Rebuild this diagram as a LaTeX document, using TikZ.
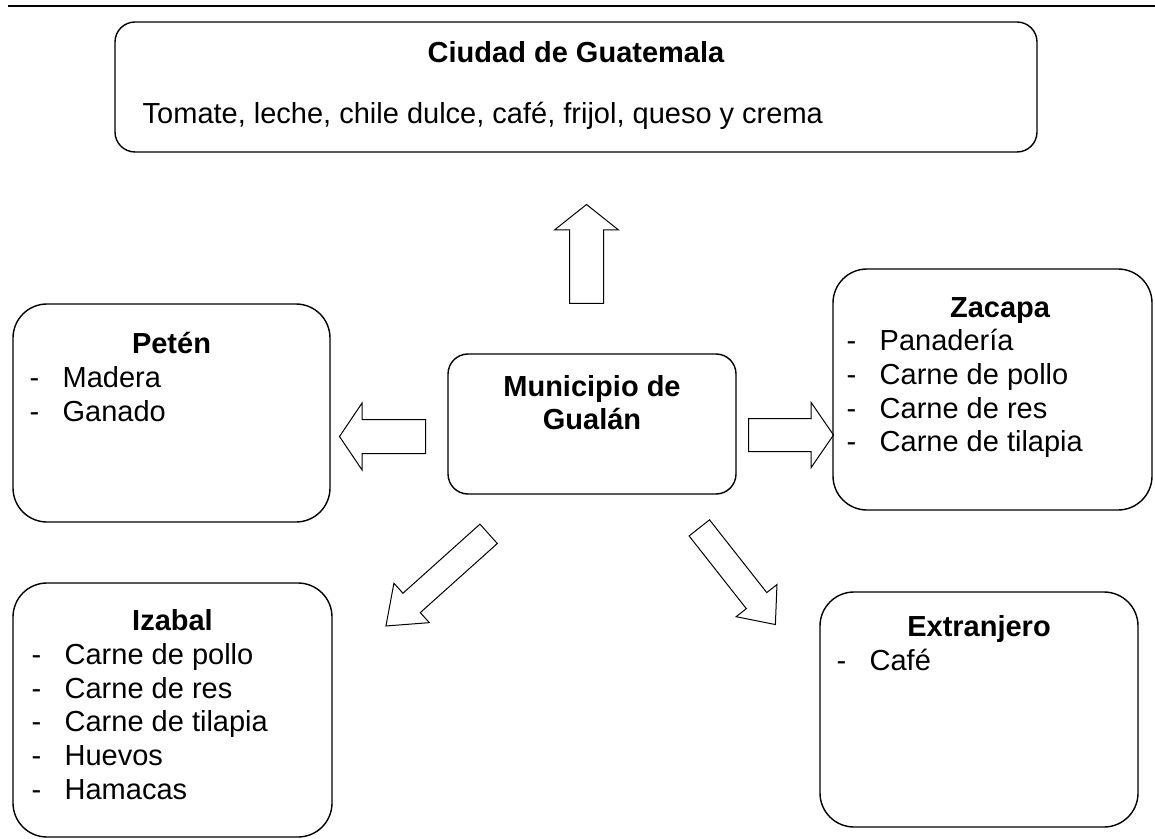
\documentclass[tikz,border=0pt]{standalone}
\usepackage{fontspec}
\setmainfont{Liberation Sans}
\usetikzlibrary{shapes.arrows}
\newcommand{\letra}{\fontsize{14.5}{16.85}\selectfont}
\newcommand{\guion}[1]{\makebox[16.5pt][l]{-}#1}
\tikzset{
  caja/.style = {draw=black, line width=0.7pt, rounded corners=17pt,
    inner sep=0pt},% caja de destino
  cajita/.style = {caja, rounded corners=10pt},% ciudad y municipio
  titulo/.style = {font=\letra\bfseries, inner sep=0pt, anchor=base},
  lista/.style = {font=\letra, inner sep=0pt, anchor=base west},
  flecha/.style = {single arrow, draw=black, line width=0.5pt,
    inner xsep=0pt, minimum width=0pt, anchor=tail}% flecha de bloque
}
\begin{document}
\begin{tikzpicture}[x=0.5pt, y=-0.5pt]
  \useasboundingbox (0,0) rectangle (1155,839);
  \draw[line width=1.1pt] (8,6) -- (1155,6);
  % cajas
  \node [cajita, minimum width=461pt, minimum height=65pt] (ciudad) at (576,87) {};
  \node [cajita, minimum width=144pt, minimum height=70pt] (muni) at (592,424) {};
  \node [caja, minimum width=158.5pt, minimum height=109pt] (peten) at (171.5,413) {};
  \node [caja, minimum width=159.5pt, minimum height=120.5pt] (zacapa) at (992.5,389.5) {};
  \node [caja, minimum width=159.5pt, minimum height=127pt] (izabal) at (172.5,710) {};
  \node [caja, minimum width=159pt, minimum height=117.5pt] (extra) at (979,709.5) {};
  % textos
  \node [titulo] (ciudadT) at ([yshift=-20.5pt]ciudad.north) {Ciudad de Guatemala};
  \node [lista] (ciudadL) at ([shift={(14pt,-51pt)}]ciudad.north west)
    {Tomate, leche, chile dulce, café, frijol, queso y crema};
  \node [titulo] (muniT) at ([yshift=14pt]muni.center)
    {\begin{tabular}[t]{@{}c@{}}Municipio de\\Gualán\end{tabular}};
  \node [titulo] (petenT) at ([yshift=-25pt]peten.north) {Petén};
  \node [lista] (petenL) at ([shift={(8.5pt,-42pt)}]peten.north west)
    {\begin{tabular}[t]{@{}l@{}}\guion{Madera}\\\guion{Ganado}\end{tabular}};
  \node [titulo] (zacapaT) at ([shift={(3.75pt,-24.5pt)}]zacapa.north) {Zacapa};
  \node [lista] (zacapaL) at ([shift={(7pt,-41.25pt)}]zacapa.north west)
    {\begin{tabular}[t]{@{}l@{}}\guion{Panadería}\\\guion{Carne de pollo}\\
     \guion{Carne de res}\\\guion{Carne de tilapia}\end{tabular}};
  \node [titulo] (izabalT) at ([yshift=-24pt]izabal.north) {Izabal};
  \node [lista] (izabalL) at ([shift={(9.5pt,-41pt)}]izabal.north west)
    {\begin{tabular}[t]{@{}l@{}}\guion{Carne de pollo}\\\guion{Carne de res}\\
     \guion{Carne de tilapia}\\\guion{Huevos}\\\guion{Hamacas}\end{tabular}};
  \node [titulo] (extraT) at ([yshift=-22.5pt]extra.north) {Extranjero};
  \node [lista] (extraL) at ([shift={(8.5pt,-39.5pt)}]extra.north west)
    {\begin{tabular}[t]{@{}l@{}}\guion{Café}\end{tabular}};
  % flechas
  \node [flecha, rotate=90, minimum height=49.5pt, inner ysep=8.25pt,
    single arrow head extend=7.5pt, single arrow tip angle=103] (aCiudad) at (586.5,304) {};
  \node [flecha, rotate=180, minimum height=43pt, inner ysep=8.25pt,
    single arrow head extend=8.25pt, single arrow tip angle=112] (aPeten) at (426,436.5) {};
  \node [flecha, rotate=0, minimum height=42.5pt, inner ysep=8pt,
    single arrow head extend=8pt, single arrow tip angle=111] (aZacapa) at (748,435) {};
  \node [flecha, rotate=221.9, minimum height=69pt, inner ysep=6.25pt,
    single arrow head extend=6.75pt, single arrow tip angle=75] (aIzabal) at (489,533.5) {};
  \node [flecha, rotate=-51.8, minimum height=61.5pt, inner ysep=6.25pt,
    single arrow head extend=6.5pt, single arrow tip angle=81] (aExtra) at (699,527.5) {};
\end{tikzpicture}
\end{document}
